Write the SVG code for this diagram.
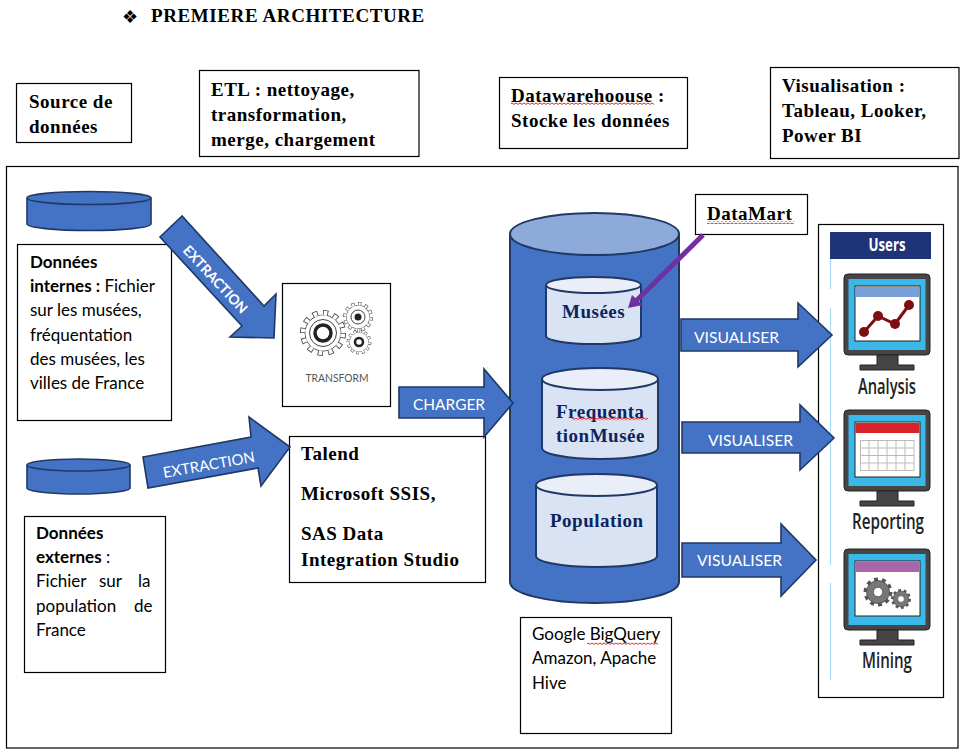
<svg xmlns="http://www.w3.org/2000/svg" width="972" height="753" viewBox="0 0 972 753">
<style>
text{font-family:"Liberation Serif",serif;fill:#000}
.s{font-weight:bold;font-size:19px;letter-spacing:.5px}
.c{font-family:Lato,"Liberation Sans",sans-serif;font-size:17px}
.b{font-weight:bold}
.w{font-family:Lato,"Liberation Sans",sans-serif;font-size:15px;fill:#fff}
.n{font-weight:bold;font-size:19px;letter-spacing:.5px;fill:#0b2560}
.l{font-family:"Open Sans","Liberation Sans",sans-serif;font-weight:600;font-size:21px;fill:#222;text-anchor:middle}
.box{fill:#fff;stroke:#000;stroke-width:1.2}
.blue{fill:#4472c4;stroke:#1f3864;stroke-width:1.6}
.cyl{stroke:#1f3864;stroke-width:2}
.mon{fill:#454545;stroke:#222;stroke-width:1}
.sky{fill:#3ab8e8}
</style>
<defs>
<pattern id="sq" width="4" height="3" patternUnits="userSpaceOnUse"><path d="M0 1L2 2.4L4 1" fill="none" stroke="#e01010" stroke-width=".9"/></pattern>
<g id="gearO">
<circle r="19" fill="none" stroke="#444" stroke-width="6" pathLength="24" stroke-dasharray="1 1"/>
<circle r="17.5" fill="#444"/>
<circle r="19" fill="none" stroke="#fff" stroke-width="4.4" pathLength="24" stroke-dasharray=".7 1.3" stroke-dashoffset="-.15"/>
<circle r="16.8" fill="#fff"/>
</g>
<g id="gearF">
<circle r="17" fill="none" stroke="#555" stroke-width="6" pathLength="20" stroke-dasharray="1 1"/>
<circle r="16" fill="#777" stroke="#444"/>
<circle r="6.5" fill="#fff" stroke="#444"/>
</g>
<g id="monitor">
<rect x="844" y="0" width="86" height="81" rx="4" class="mon"/>
<rect x="848.500" y="5" width="77" height="71" class="sky"/>
<rect x="855" y="12" width="65" height="55" fill="#fff" stroke="#222"/>
<path d="M877 81h21v10h16v5h-54v-5h17z" class="mon"/>
</g>
</defs>

<rect width="972" height="753" fill="#fff"/>
<g id="title">
<text x="122" y="23" style="font-family:'DejaVu Sans',sans-serif;font-size:18px">❖</text>
<text x="151" y="22" class="s" style="letter-spacing:.6px">PREMIERE ARCHITECTURE</text>
</g>
<g id="frame"><rect x="6.500" y="166.500" width="951.500" height="581.500" class="box"/></g>

<g id="source"><rect x="16.500" y="83.500" width="115" height="59" class="box"/>
<text class="s" x="29" y="108">Source de</text><text class="s" x="29" y="133">données</text></g>
<g id="etl"><rect x="199.500" y="70.500" width="219.500" height="86" class="box"/>
<text class="s" x="211" y="96">ETL : nettoyage,</text><text class="s" x="211" y="121">transformation,</text><text class="s" x="211" y="146">merge, chargement</text></g>
<g id="datawarehouse"><rect x="499.500" y="77.500" width="188" height="71" class="box"/>
<text class="s" x="511" y="102">Datawarehoouse :</text><text class="s" x="511" y="127">Stocke les données</text>
<rect x="511" y="102" width="143" height="3" fill="url(#sq)"/></g>
<g id="visualisation"><rect x="770.500" y="67.500" width="188.500" height="91" class="box"/>
<text class="s" x="782" y="92">Visualisation :</text><text class="s" x="782" y="117">Tableau, Looker,</text><text class="s" x="782" y="142">Power BI</text></g>

<g id="source-interne">
<path class="blue" d="M27 198V224A62 6.500 0 0 0 151 224V198"/><ellipse cx="89" cy="198" rx="62" ry="6.500" class="blue"/>
</g>
<g id="donnees-internes"><rect x="17.500" y="244.500" width="154" height="176" class="box"/>
<text class="c b" x="30" y="268">Données</text>
<text class="c" x="30" y="292"><tspan class="b">internes :</tspan> Fichier</text>
<text class="c" x="30" y="316">sur les musées,</text>
<text class="c" x="30" y="341">fréquentation</text>
<text class="c" x="30" y="365">des musées, les</text>
<text class="c" x="30" y="389">villes de France</text></g>

<g id="source-externe">
<path class="blue" d="M27 465V488A51.500 6 0 0 0 130 488V465"/><ellipse cx="78.500" cy="465" rx="51.500" ry="6" class="blue"/>
</g>
<g id="donnees-externes"><rect x="24.500" y="516.500" width="141" height="156" class="box"/>
<text class="c b" x="36" y="539">Données</text>
<text class="c" x="36" y="563"><tspan class="b">externes</tspan> :</text>
<text class="c" x="36" y="587">Fichier <tspan x="99">sur</tspan> <tspan x="138">la</tspan></text>
<text class="c" x="36" y="612">population <tspan x="134">de</tspan></text>
<text class="c" x="36" y="636">France</text></g>

<g id="transform"><rect x="282.500" y="283.500" width="108" height="123" class="box"/>
<use href="#gearO" transform="translate(358 317) scale(.68)"/><circle cx="358" cy="317" r="7" fill="none" stroke="#444"/><circle cx="358" cy="317" r="3.500" fill="#222"/>
<use href="#gearO" transform="translate(359 342) scale(.56)"/><circle cx="359" cy="342" r="4" fill="#fff" stroke="#222" stroke-width="2.500"/>
<use href="#gearO" transform="translate(323 333) scale(1.05)"/><circle cx="323" cy="333" r="13.500" fill="none" stroke="#444"/><circle cx="323" cy="333" r="8" fill="#fff" stroke="#222" stroke-width="3.500"/>
<text x="337" y="382" text-anchor="middle" textLength="63" lengthAdjust="spacingAndGlyphs" style="font-family:Lato,'Liberation Sans',sans-serif;font-size:11.500px;fill:#555">TRANSFORM</text></g>

<g id="talend"><rect x="289.500" y="436.500" width="196" height="146" class="box"/>
<text class="s" x="301" y="460">Talend</text><text class="s" x="301" y="500">Microsoft SSIS,</text><text class="s" x="301" y="540">SAS Data</text><text class="s" x="301" y="566">Integration Studio</text></g>

<g id="entrepot">
<path class="cyl" fill="#4472c4" d="M510 234V582A84.500 21 0 0 0 679 582V234"/><ellipse cx="594.500" cy="234" rx="84.500" ry="21" class="cyl" fill="#8eaadb"/>
</g>
<g id="musees">
<path class="cyl" fill="#dae3f3" d="M546 285V336A47.500 8 0 0 0 641 336V285"/><ellipse cx="593.500" cy="285" rx="47.500" ry="8" class="cyl" fill="#e9eef8"/>
<text class="n" x="562" y="318">Musées</text></g>
<g id="frequentation">
<path class="cyl" fill="#dae3f3" d="M542 379V448A58 11 0 0 0 658 448V379"/><ellipse cx="600" cy="379" rx="58" ry="11" class="cyl" fill="#e9eef8"/>
<text class="n" x="556" y="418">Frequenta</text><text class="n" x="556" y="442">tionMusée</text>
<rect x="572" y="418" width="76" height="3" fill="url(#sq)"/></g>
<g id="population">
<path class="cyl" fill="#dae3f3" d="M536 485V556A60.500 11 0 0 0 657 556V485"/><ellipse cx="596.500" cy="485" rx="60.500" ry="11" class="cyl" fill="#e9eef8"/>
<text class="n" x="550" y="527">Population</text></g>

<g id="google"><rect x="520.500" y="617.500" width="151" height="116" class="box"/>
<text class="c" x="532" y="640">Google BigQuery</text><text class="c" x="532" y="664">Amazon, Apache</text><text class="c" x="532" y="689">Hive</text>
<rect x="587" y="642" width="71" height="3" fill="url(#sq)"/></g>

<g id="datamart"><rect x="695.500" y="194.500" width="112" height="40" class="box"/>
<text class="s" x="707" y="220">DataMart</text>
<rect x="707" y="221" width="87" height="3" fill="url(#sq)"/></g>

<g id="users"><rect x="818.500" y="224.500" width="125" height="473" class="box"/>
<rect x="830" y="232" width="101" height="27" fill="#1f3478"/>
<path d="M830.500 259V289M830.500 308V565M830.500 583V680" stroke="#a8dcf5" stroke-width="1.200" fill="none"/>
<text x="887" y="251" text-anchor="middle" style="font-family:'Open Sans',sans-serif;font-weight:bold;font-size:18px;fill:#fff" textLength="37" lengthAdjust="spacingAndGlyphs">Users</text>
<g id="analysis"><use href="#monitor" y="274"/>
<rect x="855.500" y="287" width="64" height="10" fill="#7a9fd6"/>
<path d="M864 332L878 316L895 324L909 305" fill="none" stroke="#7d0f14" stroke-width="3"/>
<circle cx="864" cy="332" r="5" fill="#7d0f14"/><circle cx="878" cy="316" r="5" fill="#7d0f14"/><circle cx="895" cy="324" r="5" fill="#7d0f14"/><circle cx="909" cy="305" r="5" fill="#7d0f14"/>
<text class="l" x="887" y="394" textLength="58" lengthAdjust="spacingAndGlyphs">Analysis</text></g>
<g id="reporting"><use href="#monitor" y="410"/>
<rect x="855.500" y="423" width="64" height="10" fill="#d8232a"/>
<path d="M860.500 440.500H914M860.500 448H914M860.500 455.500H914M860.500 463H914M860.500 470.500H914M860.500 440V471M869 440V471M878 440V471M887 440V471M896 440V471M905 440V471M914 440V471" fill="none" stroke="#bbb"/>
<text class="l" x="888" y="529" textLength="72" lengthAdjust="spacingAndGlyphs">Reporting</text></g>
<g id="mining"><use href="#monitor" y="549"/>
<rect x="855.500" y="562" width="64" height="10" fill="#a868a8"/>
<use href="#gearF" transform="translate(878 592) scale(.72)"/><use href="#gearF" transform="translate(901 599) scale(.5)"/>
<text class="l" x="887" y="668" textLength="50" lengthAdjust="spacingAndGlyphs">Mining</text></g>
</g>

<g id="connectors">
<polygon class="blue" points="182,216 160,237 242,326 230,337 274,338 276,294 264,306"/>
<text class="w" font-weight="bold" style="font-size:14px" transform="translate(182 251) rotate(47)" textLength="87" lengthAdjust="spacingAndGlyphs">EXTRACTION</text>
<polygon class="blue" points="143,457 251,437 249,417 290,447 261,486 258,468 148,488"/>
<text class="w" transform="translate(164 478) rotate(-10)" textLength="93" lengthAdjust="spacingAndGlyphs">EXTRACTION</text>
<polygon class="blue" points="399,387 484,387 484,369 513,403 484,437 484,418 399,418"/>
<text class="w" x="413" y="410" textLength="72" lengthAdjust="spacingAndGlyphs">CHARGER</text>
<polygon class="blue" points="681,319 798,319 798,303 832,335 798,367 798,351 681,351"/>
<text class="w" x="694" y="343" textLength="85" lengthAdjust="spacingAndGlyphs">VISUALISER</text>
<polygon class="blue" points="682,422 800,422 800,405 834,438 800,470 800,453 682,453"/>
<text class="w" x="708" y="446" textLength="85" lengthAdjust="spacingAndGlyphs">VISUALISER</text>
<polygon class="blue" points="682,543 781,543 781,524 816,560 781,596 781,577 682,577"/>
<text class="w" x="697" y="566" textLength="85" lengthAdjust="spacingAndGlyphs">VISUALISER</text>
<path d="M703 235L636 301" stroke="#7030a0" stroke-width="5" fill="none"/>
<polygon points="628,308 632,295 643,305" fill="#7030a0"/>
</g>
</svg>
